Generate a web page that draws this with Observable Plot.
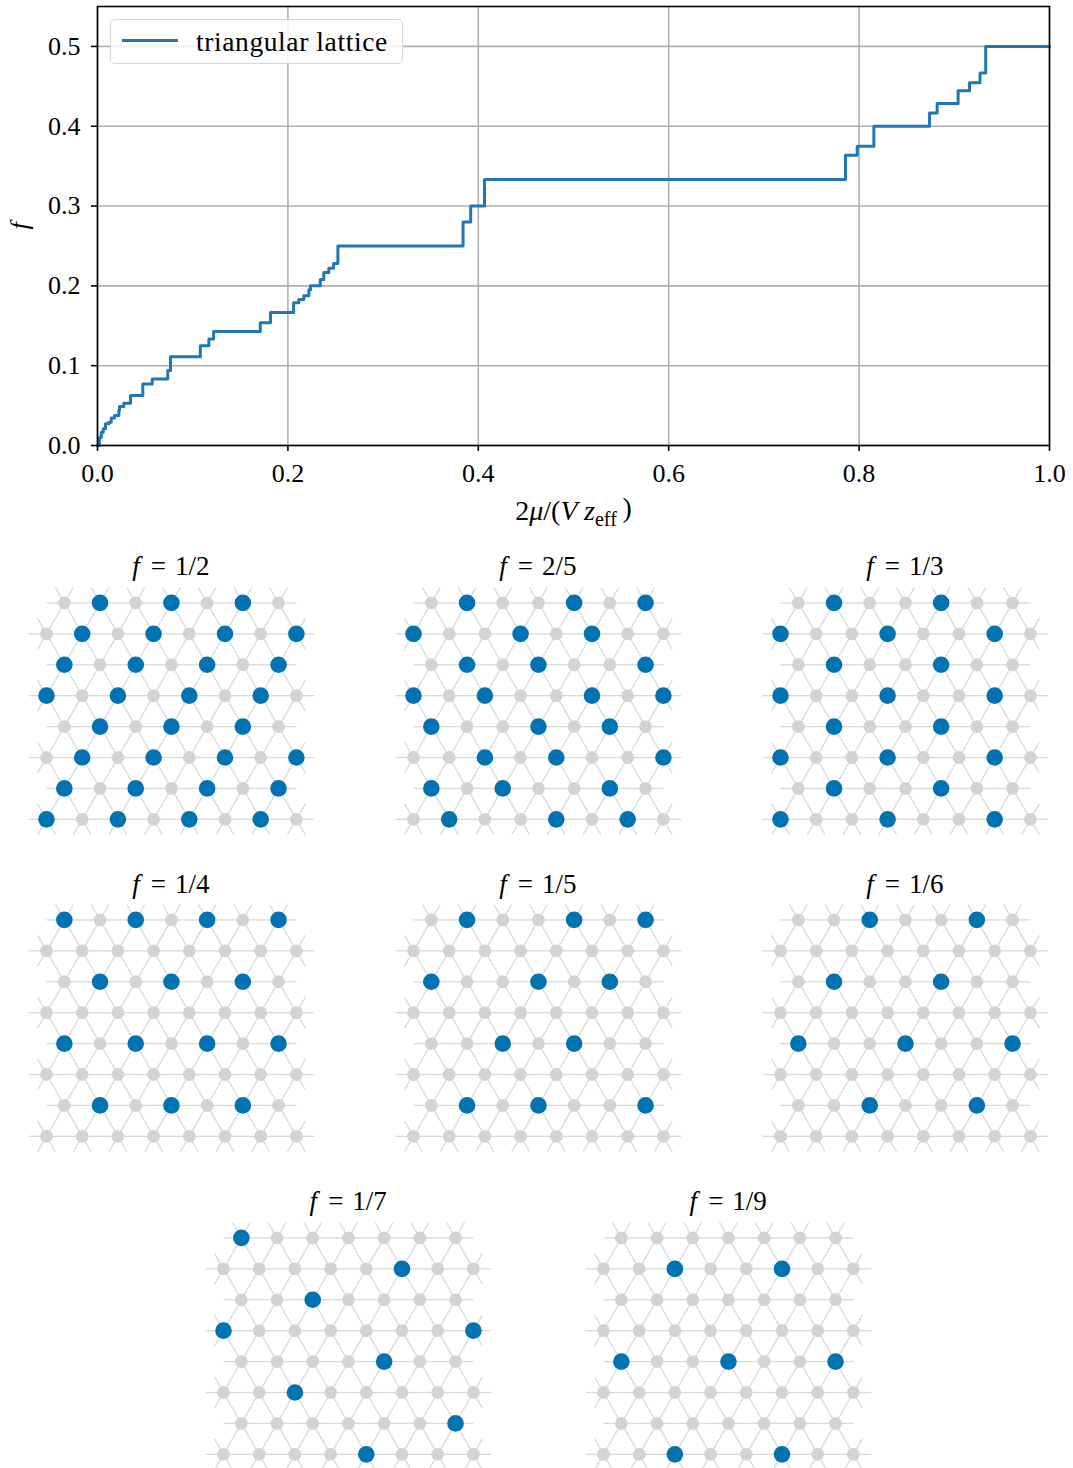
<!DOCTYPE html>
<html><head><meta charset="utf-8">
<script src="https://cdn.jsdelivr.net/npm/d3@7"></script>
<script src="https://cdn.jsdelivr.net/npm/@observablehq/plot@0.6"></script>
<style>
body{margin:0;background:#fff;}
#root{position:relative;width:1073px;height:1468px;font-family:"Liberation Serif",serif;color:#000;overflow:hidden;}
.ptitle{position:absolute;font-size:27px;line-height:1;white-space:nowrap;transform:translateX(-50%);}
.ptitle i{margin-right:2px;}
.legend{position:absolute;left:110px;top:19px;width:291px;height:43px;border:1.5px solid #d6d6d6;border-radius:5px;background:rgba(255,255,255,0.85);}
.legend .swatch{position:absolute;left:11px;top:19px;width:56px;height:3px;background:#1f77b4;}
.legend .ltext{position:absolute;left:85px;top:5px;font-size:27.5px;line-height:1.2;white-space:nowrap;letter-spacing:0.6px;}
</style></head><body><div id="root"></div>
<script>
// ---- staircase f(2mu/(V z_eff)) : plateau start x and value f ----
const stepX = [0, 0.002, 0.004, 0.006, 0.0084, 0.0119, 0.0144, 0.0179, 0.0224, 0.0231, 0.0276, 0.0347, 0.0476, 0.0575, 0.0738, 0.0767, 0.108, 0.117, 0.122, 0.171, 0.1817, 0.206, 0.2115, 0.2167, 0.222, 0.2237, 0.234, 0.2377, 0.243, 0.248, 0.2525, 0.384, 0.392, 0.4065, 0.7857, 0.798, 0.8155, 0.874, 0.882, 0.904, 0.916, 0.927, 0.933, 1.0];
const stepF = [0, 0.01, 0.0167, 0.021, 0.0271, 0.029, 0.0346, 0.0375, 0.0437, 0.049, 0.053, 0.0625, 0.0769, 0.0833, 0.094, 0.1111, 0.125, 0.1333, 0.1429, 0.1538, 0.1667, 0.179, 0.183, 0.1875, 0.195, 0.2, 0.208, 0.2167, 0.2222, 0.228, 0.25, 0.28, 0.3, 0.3333, 0.3636, 0.375, 0.4, 0.4167, 0.4286, 0.4444, 0.4545, 0.4667, 0.5, 0.5];
const xTicks = [0, 0.2, 0.4, 0.6, 0.8, 1.0];
const yTicks = [0, 0.1, 0.2, 0.3, 0.4, 0.5];
const seriesName = "triangular lattice";

// ---- lattice panels: occupied sites, per row (row 0 = top), column index within row ----
const panelTitles = ["1/2", "2/5", "1/3", "1/4", "1/5", "1/6", "1/7", "1/9"];
const occ12 = [[1,3,5],[1,3,5,7],[0,2,4,6],[0,2,4,6],[1,3,5],[1,3,5,7],[0,2,4,6],[0,2,4,6]];
const occ25 = [[1,4,6],[0,3,5],[1,3,6],[0,2,5,7],[0,3,5],[2,4,7],[0,2,5],[1,4,6]];
const occ13 = [[1,4],[0,3,6],[1,4],[0,3,6],[1,4],[0,3,6],[1,4],[0,3,6]];
const occ14 = [[0,2,4,6],[],[1,3,5],[],[0,2,4,6],[],[1,3,5],[]];
const occ15 = [[1,4,6],[],[0,3,5],[],[2,4],[],[1,3,6],[]];
const occ16 = [[2,5],[],[1,4],[],[0,3,6],[],[2,5],[]];
const occ17 = [[0],[5],[2],[0,7],[4],[2],[6],[4]];
const occ19 = [[],[2,5],[],[],[0,3,6],[],[],[2,5]];
const panelOcc = [occ12, occ25, occ13, occ14, occ15, occ16, occ17, occ19];
// panel anchors (pixel position of first site of row 1 horizontally, row 0 vertically)
const panelAnchors = [[46,602],[413,602],[780,602],[46,919.5],[413,919.5],[780,919.5],[223.3,1237],[603.3,1237]];

const root = document.getElementById("root");

// ---------------- main chart ----------------
const data = stepX.map((x, i) => ({x, f: stepF[i]}));
const fmt = d3.format(".1f");
const main = Plot.plot({
  width: 1073, height: 530,
  marginLeft: 97, marginRight: 24, marginTop: 6, marginBottom: 85,
  style: {fontFamily: "Liberation Serif, serif", fontSize: "26px", background: "white", color: "black", overflow: "visible"},
  x: {domain: [0, 1]},
  y: {domain: [0, 0.55]},
  marks: [
    Plot.gridX(xTicks, {stroke: "#b0b0b0", strokeOpacity: 1, strokeWidth: 1.6}),
    Plot.gridY(yTicks, {stroke: "#b0b0b0", strokeOpacity: 1, strokeWidth: 1.6}),
    Plot.line(data, {x: "x", y: "f", curve: "step-after", stroke: "#1f77b4", strokeWidth: 3}),
    Plot.axisX(xTicks, {tickFormat: fmt, tickSize: 6, tickPadding: 12, strokeWidth: 1.6, label: "2μ/(Vzeff)", labelArrow: "none", labelAnchor: "center", labelOffset: 74}),
    Plot.axisY(yTicks, {tickFormat: fmt, tickSize: 6, tickPadding: 11, strokeWidth: 1.6, label: "f", labelArrow: "none", labelAnchor: "center", labelOffset: 88}),
    Plot.frame({stroke: "black", strokeWidth: 1.6})
  ]
});
main.style.position = "absolute"; main.style.left = "0px"; main.style.top = "0px";
root.appendChild(main);

// rich axis labels (italic variables, subscript)
const ns = "http://www.w3.org/2000/svg";
function tspan(parent, txt, opts = {}) {
  const t = document.createElementNS(ns, "tspan");
  t.textContent = txt;
  if (opts.italic) t.setAttribute("font-style", "italic");
  if (opts.dy) t.setAttribute("dy", opts.dy);
  if (opts.size) t.setAttribute("font-size", opts.size);
  parent.appendChild(t);
  return t;
}
main.querySelectorAll("text").forEach(t => {
  const s = t.textContent.replace(/[\u2190-\u2193]/g, "").trim();
  if (s === "2μ/(Vzeff)") {
    t.textContent = "";
    t.setAttribute("font-size", "28px");
    tspan(t, "2");
    tspan(t, "μ", {italic: true});
    tspan(t, "/(");
    tspan(t, "V", {italic: true});
    tspan(t, " z", {italic: true});
    tspan(t, "eff", {dy: "0.32em", size: "20px"});
    tspan(t, "\u2009)", {dy: "-0.32em"});
  } else if (s === "f") {
    t.textContent = "f";
    t.setAttribute("font-style", "italic");
  }
});

// legend
const leg = document.createElement("div");
leg.className = "legend";
leg.innerHTML = `<div class="swatch"></div><div class="ltext">${seriesName}</div>`;
root.appendChild(leg);

// ---------------- lattice panels ----------------
const A = 35.7, H = Math.sqrt(3) / 2;
const W = 300, PH = 262;
const sites = [];
for (let r = 0; r < 8; r++) {
  const n = r % 2 === 0 ? 7 : 8, off = r % 2 === 0 ? 0.5 : 0;
  for (let c = 0; c < n; c++) sites.push({r, c, X: c + off, Y: r * H});
}
const bonds = sites.flatMap(s => [0, 60, 120, 180, 240, 300].map(a => {
  const t = a * Math.PI / 180;
  return {x1: s.X, y1: s.Y, x2: s.X + 0.5 * Math.cos(t), y2: s.Y + 0.5 * Math.sin(t)};
}));

panelOcc.forEach((occ, i) => {
  const filled = sites.filter(s => occ[s.r].includes(s.c));
  const [ax, ay] = panelAnchors[i];
  const svg = Plot.plot({
    width: W, height: PH, margin: 0,
    style: {background: "transparent", overflow: "visible"},
    x: {domain: [-0.7, W / A - 0.7], axis: null},
    y: {domain: [-0.6, PH / A - 0.6], axis: null, reverse: true},
    marks: [
      Plot.link(bonds, {x1: "x1", y1: "y1", x2: "x2", y2: "y2", stroke: "#d9d9d9", strokeWidth: 1.3}),
      Plot.dot(sites, {x: "X", y: "Y", r: 6.4, fill: "#d3d3d3"}),
      Plot.dot(filled, {x: "X", y: "Y", r: 8.3, fill: "#0173b2"})
    ]
  });
  svg.style.position = "absolute";
  svg.style.left = (ax - 0.7 * A) + "px";
  svg.style.top = (ay - 0.6 * A) + "px";
  root.appendChild(svg);
  const tt = document.createElement("div");
  tt.className = "ptitle";
  tt.innerHTML = `<i>f</i>&#8202;&nbsp;=&nbsp;&#8202;${panelTitles[i]}`;
  tt.style.left = (ax + 3.5 * A) + "px";
  tt.style.top = (ay - 49) + "px";
  root.appendChild(tt);
});
</script></body></html>
